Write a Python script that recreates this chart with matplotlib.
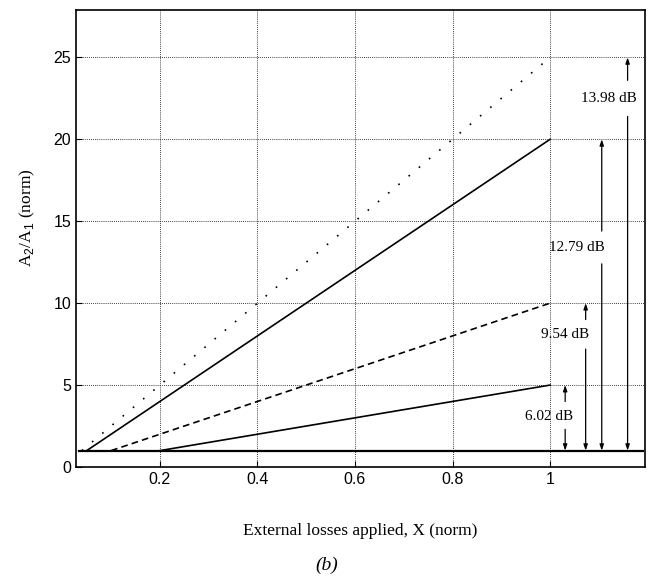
import numpy as np
import matplotlib
matplotlib.use("Agg")
import matplotlib.pyplot as plt

# -------- DATA --------
# A2/A1 = k * X, each curve starts where it crosses 1
gains = [25, 20, 10, 5]
x_start = [0.04, 0.05, 0.1, 0.2]
x_end = 1.0
styles = [(0, (1, 7)), "-", (0, (4, 2.5)), "-"]

base_x = [0.035, 1.19]
base_y = [1, 1]

# dB markers: label, top value, arrow x, label x, label y, upper tail, lower tail
db_labels = ["6.02 dB", "9.54 dB", "12.79 dB", "13.98 dB"]
db_top = [5, 10, 20, 25]
arrow_x = [1.031, 1.073, 1.106, 1.159]
label_x = [0.997, 1.031, 1.056, 1.121]
label_y = [3.1, 8.1, 13.4, 22.5]
upper_tail = [4.0, 9.0, 14.4, 23.6]
lower_tail = [2.3, 7.2, 12.4, 21.4]

xticks = [0.2, 0.4, 0.6, 0.8, 1.0]
xtick_labels = ["0.2", "0.4", "0.6", "0.8", "1"]
yticks = [0, 5, 10, 15, 20, 25]

SERIF = ["Liberation Serif", "DejaVu Serif"]
SANS = ["Liberation Sans Narrow", "Liberation Sans", "DejaVu Sans"]

plt.rcParams["mathtext.fontset"] = "custom"
plt.rcParams["mathtext.rm"] = "Liberation Sans"

# -------- FIGURE --------
fig = plt.figure(figsize=(6.59, 5.82), dpi=100)
ax = fig.add_axes([0.1153, 0.1976, 0.8637, 0.7854])

for k, x0, ls in zip(gains, x_start, styles):
    xs = np.linspace(x0, x_end, 50)
    ax.plot(xs, k * xs, color="black", linestyle=ls, linewidth=1.2)

ax.plot(base_x, base_y, color="black", linewidth=1.6)

arrow_kw = dict(arrowstyle="-|>,head_length=0.35,head_width=0.12",
                color="black", lw=0.9, shrinkA=0, shrinkB=0)
for lab, top, ax_x, lx, ly, ut, lt in zip(db_labels, db_top, arrow_x,
                                          label_x, label_y, upper_tail,
                                          lower_tail):
    ax.annotate("", xy=(ax_x, top), xytext=(ax_x, ut), arrowprops=arrow_kw)
    ax.annotate("", xy=(ax_x, 1), xytext=(ax_x, lt), arrowprops=arrow_kw)
    ax.text(lx, ly, lab, ha="center", va="center", fontsize=11,
            family=SERIF, color="black")

ax.set_xlim(0.028, 1.195)
ax.set_ylim(0, 27.9)
ax.set_xticks(xticks)
ax.set_xticklabels(xtick_labels)
ax.set_yticks(yticks)
ax.grid(True, linestyle=(0, (1, 1.5)), color="black", linewidth=0.6)
ax.tick_params(direction="in", length=4, width=0.8, labelsize=11.5)
for lbl in ax.get_xticklabels() + ax.get_yticklabels():
    lbl.set_family(SANS)
for sp in ax.spines.values():
    sp.set_linewidth(1.2)

ax.set_xlabel("External losses applied, X (norm)", family=SERIF,
              fontsize=12.5, labelpad=26)
ax.set_ylabel(r"A$_2$/A$_1$ (norm)", family=SERIF, fontsize=12.5)
ax.yaxis.set_label_coords(-0.068, 0.545)
fig.text(0.495, 0.028, "(b)", family=SERIF, style="italic", fontsize=14,
         ha="center", va="center")

fig.savefig("out.png", dpi=100)
